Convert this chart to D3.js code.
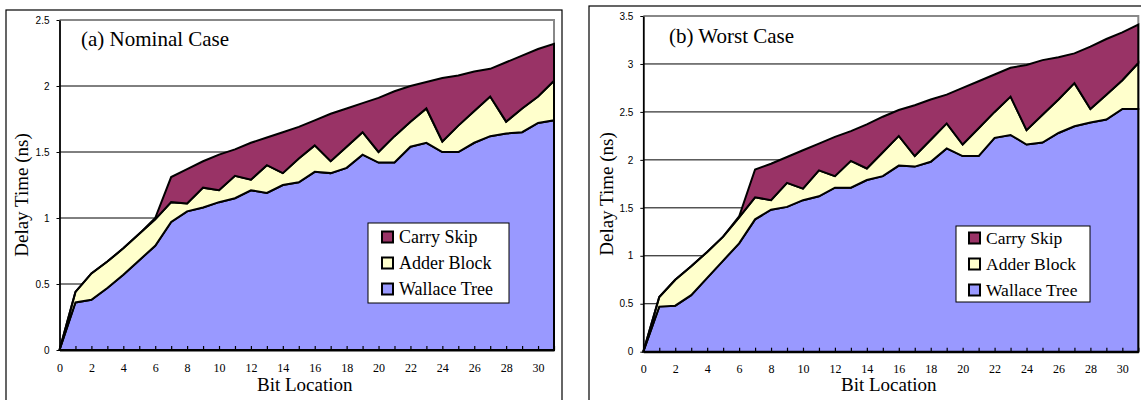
<!DOCTYPE html>
<html>
<head>
<meta charset="utf-8">
<script src="https://cdn.jsdelivr.net/npm/d3@7"></script>
<style>
body { margin: 0; background: #fff; }
svg { display: block; }
</style>
</head>
<body>
<svg class="delay_svg" width="1141" height="400"></svg>
<script>
// bit positions (x categories)
var bits = [0, 1, 2, 3, 4, 5, 6, 7, 8, 9, 10, 11, 12, 13, 14, 15,
            16, 17, 18, 19, 20, 21, 22, 23, 24, 25, 26, 27, 28, 29, 30, 31];

// (a) nominal case, delay per component (ns)
var nominalWallace = [0, 0.36, 0.38, 0.47, 0.57, 0.68, 0.79, 0.97, 1.05, 1.08, 1.12, 1.15, 1.21, 1.19, 1.25, 1.27,
                      1.35, 1.34, 1.38, 1.48, 1.42, 1.42, 1.54, 1.57, 1.50, 1.50, 1.57, 1.62, 1.64, 1.65, 1.72, 1.74];
var nominalAdder = [0, 0.08, 0.20, 0.20, 0.20, 0.20, 0.20, 0.15, 0.06, 0.15, 0.09, 0.17, 0.08, 0.21, 0.09, 0.18,
                    0.20, 0.09, 0.16, 0.17, 0.08, 0.20, 0.19, 0.26, 0.08, 0.20, 0.24, 0.30, 0.09, 0.18, 0.20, 0.30];
var nominalCarry = [0, 0, 0, 0, 0, 0, 0.01, 0.19, 0.26, 0.20, 0.27, 0.20, 0.28, 0.21, 0.31, 0.24,
                    0.19, 0.36, 0.29, 0.22, 0.41, 0.34, 0.27, 0.20, 0.48, 0.38, 0.30, 0.21, 0.45, 0.40, 0.36, 0.28];

// (b) worst case, delay per component (ns)
var worstWallace = [0, 0.47, 0.48, 0.59, 0.77, 0.95, 1.13, 1.38, 1.48, 1.51, 1.58, 1.62, 1.71, 1.71, 1.79, 1.83,
                    1.94, 1.93, 1.98, 2.12, 2.04, 2.04, 2.23, 2.26, 2.16, 2.18, 2.28, 2.35, 2.39, 2.42, 2.53, 2.53];
var worstAdder = [0, 0.10, 0.27, 0.30, 0.27, 0.25, 0.27, 0.23, 0.10, 0.25, 0.12, 0.27, 0.12, 0.28, 0.12, 0.25,
                  0.31, 0.11, 0.23, 0.26, 0.12, 0.29, 0.27, 0.40, 0.15, 0.29, 0.35, 0.45, 0.14, 0.26, 0.30, 0.48];
var worstCarry = [0, 0, 0, 0, 0, 0, 0.01, 0.29, 0.38, 0.27, 0.40, 0.28, 0.41, 0.31, 0.46, 0.37,
                  0.27, 0.53, 0.42, 0.30, 0.59, 0.49, 0.39, 0.30, 0.68, 0.57, 0.44, 0.31, 0.65, 0.58, 0.50, 0.40];

var yTicksNominal = [0, 0.5, 1, 1.5, 2, 2.5];
var yTicksWorst = [0, 0.5, 1, 1.5, 2, 2.5, 3, 3.5];
var xTickLabels = [0, 2, 4, 6, 8, 10, 12, 14, 16, 18, 20, 22, 24, 26, 28, 30];
var legendLabels = ["Carry Skip", "Adder Block", "Wallace Tree"];
var keys = ["wallace", "adder", "carry"];
var colors = { carry: "#993366", adder: "#ffffcc", wallace: "#9999ff" };

var SERIF = "'Times New Roman', 'Liberation Serif', Tinos, 'Nimbus Roman', 'DejaVu Serif', 'Noto Serif', serif";
var SANS = "Arial, 'Liberation Sans', Helvetica, sans-serif";

var svg_delay = d3.select(".delay_svg");

function draw_panel(p) {
    var rows = bits.map(function (b, i) {
        return { bit: b, wallace: p.wallace[i], adder: p.adder[i], carry: p.carry[i] };
    });

    // outer frame
    svg_delay.append("rect")
        .attr("x", p.frame[0]).attr("y", p.frame[1])
        .attr("width", p.frame[2]).attr("height", p.frame[3])
        .attr("fill", "none").attr("stroke", "#000").attr("stroke-width", 1.2);

    var x = d3.scaleLinear().domain([0, 31]).range([p.left, p.right]);
    var y = d3.scaleLinear().domain([0, p.ymax]).range([p.bottom, p.top]);

    var g = svg_delay.append("g");

    // gridlines
    g.selectAll(".grid")
        .data(p.yTicks.filter(function (d) { return d > 0 && d < p.ymax; }))
        .enter().append("line")
        .attr("x1", p.left).attr("x2", p.right)
        .attr("y1", function (d) { return y(d); })
        .attr("y2", function (d) { return y(d); })
        .attr("stroke", "#000").attr("stroke-width", 1);

    // gray plot border (top + right)
    g.append("path")
        .attr("d", "M" + p.left + "," + y(p.ymax) + "H" + p.right + "V" + p.bottom)
        .attr("fill", "none").attr("stroke", "#888").attr("stroke-width", 2);

    // stacked areas
    var series = d3.stack().keys(keys)(rows);
    var area = d3.area()
        .x(function (d) { return x(d.data.bit); })
        .y0(function (d) { return y(d[0]); })
        .y1(function (d) { return y(d[1]); });

    g.selectAll(".layer")
        .data(series)
        .enter().append("path")
        .attr("d", area)
        .attr("fill", function (d) { return colors[d.key]; })
        .attr("stroke", "#000")
        .attr("stroke-width", 2);

    // y axis
    var yAxis = g.append("g")
        .attr("transform", "translate(" + p.left + ",0)")
        .call(d3.axisLeft(y).tickValues(p.yTicks).tickSize(3).tickSizeOuter(0)
            .tickPadding(7).tickFormat(function (d) { return d; }));
    yAxis.attr("font-family", null);
    yAxis.select(".domain").attr("stroke-width", 1.8);
    yAxis.selectAll("text").style("font-family", SANS).style("font-size", "10px").attr("fill", "#000");

    // x axis, ticks point into the plot
    var xAxis = g.append("g")
        .attr("transform", "translate(0," + p.bottom + ")")
        .call(d3.axisBottom(x).tickValues(bits).tickSizeInner(-4).tickSizeOuter(0).tickPadding(13)
            .tickFormat(function (d) { return xTickLabels.indexOf(d) >= 0 ? d : ""; }));
    xAxis.attr("font-family", null);
    xAxis.select(".domain").attr("stroke-width", 2.2);
    xAxis.selectAll("line").attr("stroke-width", 1.2);
    xAxis.selectAll("text").style("font-family", SERIF).style("font-size", "12px").attr("fill", "#000");

    // titles
    svg_delay.append("text")
        .attr("x", p.titleX).attr("y", p.titleY)
        .style("font-family", SERIF)
        .style("font-size", "21px")
        .text(p.title);

    svg_delay.append("text")
        .attr("transform", "translate(" + p.yLabelX + "," + p.yLabelY + ") rotate(-90)")
        .attr("text-anchor", "middle")
        .style("font-family", SERIF)
        .style("font-size", "19px")
        .text("Delay Time (ns)");

    svg_delay.append("text")
        .attr("x", (p.left + p.right) / 2 - 2).attr("y", 391)
        .attr("text-anchor", "middle")
        .style("font-family", SERIF)
        .style("font-size", "19px")
        .text("Bit Location");

    // legend
    var leg = svg_delay.append("g")
        .attr("transform", "translate(" + p.legend[0] + "," + p.legend[1] + ")");
    leg.append("rect")
        .attr("width", p.legend[2]).attr("height", p.legend[3])
        .attr("fill", "#fff").attr("stroke", "#000").attr("stroke-width", 1);

    var legKeys = ["carry", "adder", "wallace"];
    legendLabels.forEach(function (lab, i) {
        var cy = p.legendRow0 + 26 * i;
        leg.append("rect")
            .attr("x", p.legendSq).attr("y", cy - 5.5)
            .attr("width", 11).attr("height", 11)
            .attr("fill", colors[legKeys[i]])
            .attr("stroke", "#000").attr("stroke-width", 2);
        leg.append("text")
            .attr("x", p.legendSq + 17).attr("y", cy + 6)
            .style("font-family", SERIF)
            .style("font-size", p.legendFont + "px")
            .text(lab);
    });
}

draw_panel({
    wallace: nominalWallace, adder: nominalAdder, carry: nominalCarry,
    frame: [6, 10, 556, 420],
    left: 59.5, right: 554, top: 20, bottom: 350, ymax: 2.5, yTicks: yTicksNominal,
    title: "(a) Nominal Case", titleX: 81, titleY: 46,
    yLabelX: 28, yLabelY: 195,
    legend: [368, 223, 141, 80], legendRow0: 14, legendSq: 14, legendFont: 18
});

draw_panel({
    wallace: worstWallace, adder: worstAdder, carry: worstCarry,
    frame: [589, 6, 600, 420],
    left: 643.3, right: 1138.3, top: 16, bottom: 351.7, ymax: 3.5, yTicks: yTicksWorst,
    title: "(b) Worst Case", titleX: 669, titleY: 43,
    yLabelX: 613, yLabelY: 194,
    legend: [956, 226, 134, 76], legendRow0: 12, legendSq: 13, legendFont: 17.5
});
</script>
</body>
</html>
